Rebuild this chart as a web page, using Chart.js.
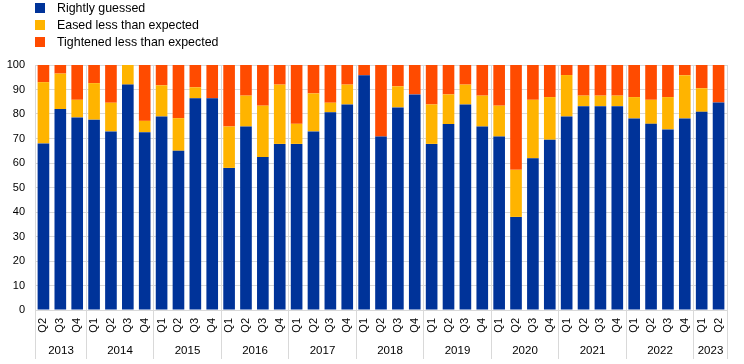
<!DOCTYPE html>
<html>
<head>
<meta charset="utf-8">
<script src="https://cdn.jsdelivr.net/npm/chart.js@4/dist/chart.umd.min.js"></script>
<style>
    body { margin: 0; background: #fff; font-family: "Liberation Sans", Arial, sans-serif; }
    #wrap { position: relative; width: 744px; height: 364px; }
    #legend { position: absolute; left: 35px; top: 0; font-size: 12.4px; color: #000; }
    .item { height: 16.7px; display: flex; align-items: center; }
    .box { width: 10px; height: 10px; margin-right: 12px; }
</style>
</head>
<body>
<div id="wrap">
    <canvas id="c" width="744" height="364"></canvas>
    <div id="legend"></div>
</div>
<script>
const categories = [
    '2013 Q2', '2013 Q3', '2013 Q4',
    '2014 Q1', '2014 Q2', '2014 Q3', '2014 Q4',
    '2015 Q1', '2015 Q2', '2015 Q3', '2015 Q4',
    '2016 Q1', '2016 Q2', '2016 Q3', '2016 Q4',
    '2017 Q1', '2017 Q2', '2017 Q3', '2017 Q4',
    '2018 Q1', '2018 Q2', '2018 Q3', '2018 Q4',
    '2019 Q1', '2019 Q2', '2019 Q3', '2019 Q4',
    '2020 Q1', '2020 Q2', '2020 Q3', '2020 Q4',
    '2021 Q1', '2021 Q2', '2021 Q3', '2021 Q4',
    '2022 Q1', '2022 Q2', '2022 Q3', '2022 Q4',
    '2023 Q1', '2023 Q2'
];

const rightlyGuessed = [
    68, 82, 78.6,
    77.7, 72.9, 92, 72.6,
    79, 65, 86.4, 86.4,
    58, 74.9, 62.4, 67.8,
    67.8, 72.9, 80.7, 83.9,
    95.8, 70.8, 82.7, 88,
    67.8, 75.9, 83.9, 74.9,
    70.8, 38, 61.9, 69.5,
    79, 83.2, 83.2, 83.2,
    78.2, 76, 73.7, 78.2,
    80.9, 84.7
];

const easedLess = [
    25, 14.5, 7.2,
    14.9, 11.7, 8, 4.6,
    12.7, 13.3, 4.5, 0,
    16.9, 12.6, 21, 24.2,
    8.2, 15.5, 3.9, 8.1,
    0, 0, 8.6, 0,
    16.1, 12.1, 8.1, 12.6,
    12.6, 19.2, 23.9, 17.4,
    16.9, 4.3, 4.3, 4.3,
    8.7, 9.8, 13.2, 17.6,
    9.6, 0
];

const tightenedLess = [
    7, 3.5, 14.2,
    7.4, 15.4, 0, 22.8,
    8.3, 21.7, 9.1, 13.6,
    25.1, 12.5, 16.6, 8,
    24, 11.6, 15.4, 8,
    4.2, 29.2, 8.7, 12,
    16.1, 12, 8, 12.5,
    16.6, 42.8, 14.2, 13.1,
    4.1, 12.5, 12.5, 12.5,
    13.1, 14.2, 13.1, 4.2,
    9.5, 15.3
];

const seriesNames = ['Rightly guessed', 'Eased less than expected', 'Tightened less than expected'];
const seriesColours = ['#003399', '#FFB400', '#FF4B00'];

const gridColour = '#d9d9d9';
const font = {family: '"Liberation Sans", Arial, sans-serif', size: 11};

// year labels under the quarters, plus the separators between years
const yearPlugin = {
    id: 'years',
    beforeDatasetsDraw(chart) {
        const ctx = chart.ctx;
        const x = chart.scales.x;
        const area = chart.chartArea;
        const slot = x.width / categories.length;
        const bottom = 359;

        ctx.save();
        ctx.strokeStyle = gridColour;
        ctx.lineWidth = 1;
        ctx.fillStyle = '#000';
        ctx.font = '11.5px ' + font.family;
        ctx.textAlign = 'center';
        ctx.textBaseline = 'middle';

        let start = 0;
        for (let i = 1; i <= categories.length; i++) {
            const year = categories[start].slice(0, 4);
            if (i === categories.length || categories[i].slice(0, 4) !== year) {
                const left = Math.round(x.getPixelForValue(start) - slot / 2) + 0.5;
                const right = Math.round(x.getPixelForValue(i - 1) + slot / 2) + 0.5;
                ctx.beginPath();
                ctx.moveTo(left, area.top);
                ctx.lineTo(left, bottom);
                if (i === categories.length) {
                    ctx.moveTo(right, area.top);
                    ctx.lineTo(right, bottom);
                }
                ctx.stroke();
                ctx.fillText(year, (left + right) / 2, 351);
                start = i;
            }
        }
        ctx.restore();
    }
};

const datasets = [rightlyGuessed, easedLess, tightenedLess].map((values, i) => {
    return {
        label: seriesNames[i],
        data: values,
        backgroundColor: seriesColours[i],
        borderWidth: 0,
        barPercentage: 0.69,
        categoryPercentage: 1.0
    };
});

const chart = new Chart(document.getElementById('c'), {
    type: 'bar',
    data: {labels: categories, datasets: datasets},
    plugins: [yearPlugin],
    options: {
        responsive: false,
        animation: false,
        layout: {padding: {top: 65, right: 17, bottom: 0, left: 0}},
        plugins: {legend: {display: false}, tooltip: {enabled: false}},
        scales: {
            x: {
                stacked: true,
                grid: {display: false, drawTicks: false},
                border: {display: false},
                afterFit: scale => { scale.height = 54; },
                ticks: {
                    font: font,
                    color: '#000',
                    autoSkip: false,
                    minRotation: 90,
                    maxRotation: 90,
                    padding: 8,
                    callback: (value, index) => categories[index].slice(5)
                }
            },
            y: {
                stacked: true,
                min: 0,
                max: 100,
                grid: {color: gridColour, drawTicks: false},
                border: {display: false},
                afterFit: scale => { scale.width = 35; },
                ticks: {font: font, color: '#000', stepSize: 10, padding: 10}
            }
        }
    }
});

// legend as plain html, one row per series
const legend = document.getElementById('legend');
chart.data.datasets.forEach(ds => {
    const row = document.createElement('div');
    row.className = 'item';
    row.innerHTML = `<span class="box" style="background:${ds.backgroundColor}"></span><span>${ds.label}</span>`;
    legend.appendChild(row);
});
</script>
</body>
</html>
